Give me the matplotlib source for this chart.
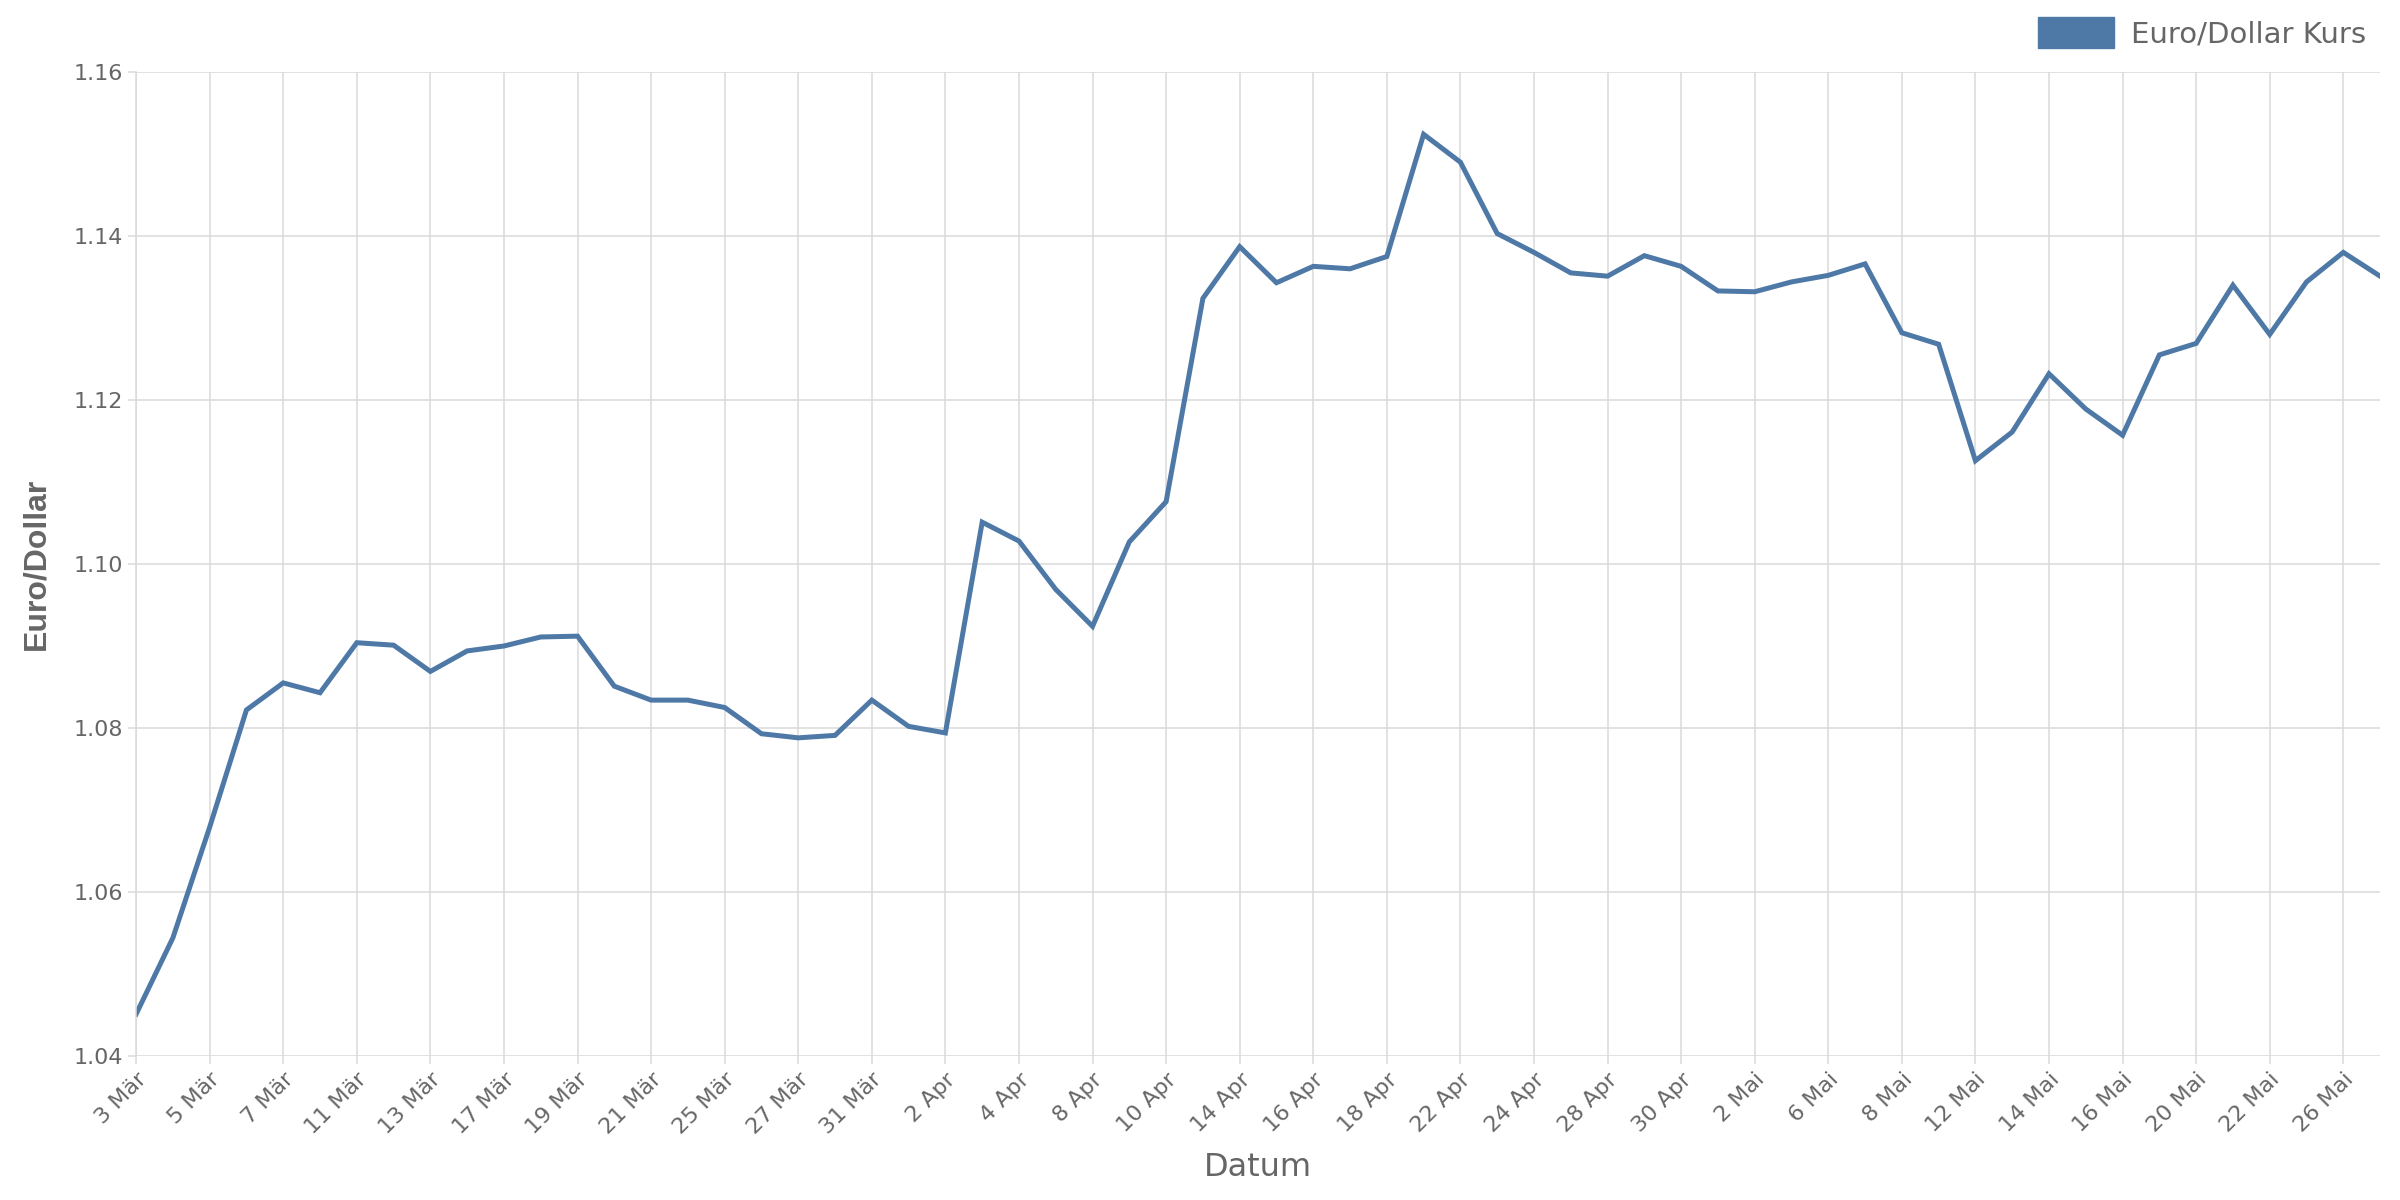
#!/usr/bin/env python3
# -*- coding: utf-8 -*-
"""
Euro/Dollar exchange rate, March to May.
"""

import matplotlib
matplotlib.use('Agg')
import matplotlib.pyplot as plt
from matplotlib.patches import Patch

# trading days (order preserved)
DATES = [
    '3 Mär', '4 Mär', '5 Mär', '6 Mär', '7 Mär', '10 Mär', '11 Mär', '12 Mär',
    '13 Mär', '14 Mär', '17 Mär', '18 Mär', '19 Mär', '20 Mär', '21 Mär',
    '24 Mär', '25 Mär', '26 Mär', '27 Mär', '28 Mär', '31 Mär', '1 Apr',
    '2 Apr', '3 Apr', '4 Apr', '7 Apr', '8 Apr', '9 Apr', '10 Apr', '11 Apr',
    '14 Apr', '15 Apr', '16 Apr', '17 Apr', '18 Apr', '21 Apr', '22 Apr',
    '23 Apr', '24 Apr', '25 Apr', '28 Apr', '29 Apr', '30 Apr', '1 Mai',
    '2 Mai', '5 Mai', '6 Mai', '7 Mai', '8 Mai', '9 Mai', '12 Mai', '13 Mai',
    '14 Mai', '15 Mai', '16 Mai', '19 Mai', '20 Mai', '21 Mai', '22 Mai',
    '23 Mai', '26 Mai', '27 Mai',
]

KURS = [
    1.0451, 1.0544, 1.0679, 1.0822, 1.0855, 1.0843, 1.0904, 1.0901,
    1.0869, 1.0894, 1.0900, 1.0911, 1.0912, 1.0851, 1.0834,
    1.0834, 1.0825, 1.0793, 1.0788, 1.0791, 1.0834, 1.0802,
    1.0794, 1.1051, 1.1028, 1.0969, 1.0924, 1.1027, 1.1076, 1.1324,
    1.1387, 1.1343, 1.1363, 1.1360, 1.1375, 1.1524, 1.1490,
    1.1403, 1.1380, 1.1355, 1.1351, 1.1376, 1.1363, 1.1333,
    1.1332, 1.1344, 1.1352, 1.1366, 1.1282, 1.1268, 1.1126, 1.1161,
    1.1232, 1.1189, 1.1157, 1.1255, 1.1269, 1.1340, 1.1280,
    1.1344, 1.1380, 1.1351,
]

Y_TICKS = [1.04, 1.06, 1.08, 1.10, 1.12, 1.14, 1.16]

BLUE = '#4e79a7'
GREY = '#666666'
GRID = '#dadada'


def make_plot():
    fig = plt.figure(figsize=(24, 12), dpi=100)
    ax = fig.add_axes([0.0567, 0.12, 0.935, 0.82])

    x = list(range(len(DATES)))
    ax.plot(x, KURS, color=BLUE, linewidth=3.6, solid_joinstyle='miter')

    ax.set_xlim(0, len(DATES) - 1)
    ax.set_ylim(1.04, 1.16)

    tick_idx = x[::2]
    ax.set_xticks(tick_idx)
    ax.set_xticklabels([DATES[i] for i in tick_idx], rotation=45,
                       ha='right', rotation_mode='anchor')
    ax.set_yticks(Y_TICKS)
    ax.set_yticklabels(['%.2f' % v for v in Y_TICKS])

    ax.grid(True, color=GRID, linewidth=1.1)
    ax.set_axisbelow(True)
    for side in ('top', 'right', 'bottom'):
        ax.spines[side].set_visible(False)
    ax.spines['left'].set_color(GRID)
    ax.spines['left'].set_linewidth(1.1)
    ax.tick_params(axis='both', colors=GRID, labelcolor=GREY,
                   labelsize=16, length=6, width=1.1)

    ax.set_xlabel('Datum', fontsize=23, color=GREY, labelpad=10,
                  fontweight='medium')
    ax.set_ylabel('Euro/Dollar', fontsize=23, color=GREY, labelpad=16,
                  fontweight='bold', fontstretch='condensed',
                  family=['Liberation Sans Narrow', 'Liberation Sans',
                          'DejaVu Sans'])

    fig.legend(handles=[Patch(color=BLUE, label='Euro/Dollar Kurs')],
               loc='upper right', bbox_to_anchor=(0.997, 1.008),
               frameon=False, fontsize=21, labelcolor=GREY,
               handlelength=2.6, handleheight=1.3, handletextpad=0.6)

    fig.savefig('out.png', dpi=100)


if __name__ == '__main__':
    make_plot()
